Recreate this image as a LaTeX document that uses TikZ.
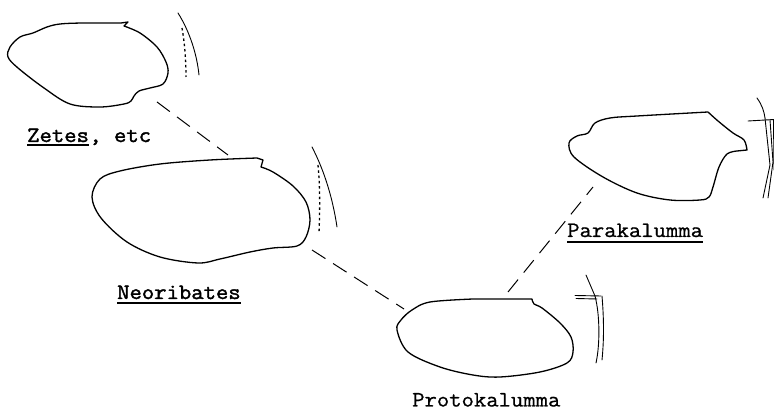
\documentclass[tikz,border=0pt]{standalone}
\usepackage{fontspec}
\newfontfamily\tw[FakeStretch=1.09,FakeBold=0.8]{Latin Modern Mono}
\newfontfamily\twb[FakeStretch=1.09,FakeBold=1.8]{Latin Modern Mono}
\begin{document}
\begin{tikzpicture}[x=1pt,y=-1pt,
  outline/.style={line width=1.3pt, line join=round, line cap=round},
  link/.style={line width=1pt, dash pattern=on 16pt off 9pt},
  dotline/.style={line width=1.3pt, dash pattern=on 2.5pt off 2.8pt},
  leg/.style={line width=0.9pt, line cap=round},
  lbl/.style={font=\tw\fontsize{22}{22}\selectfont, inner sep=0pt, anchor=base west},
  blbl/.style={lbl, font=\twb\fontsize{22}{22}\selectfont},
  uline/.style={line width=1.6pt}]
\useasboundingbox (0,0) rectangle (774,411);
% ---------- Zetes ----------
\draw[outline] plot[smooth, tension=0.55] coordinates {(124,26) (140,33) (157,47) (166,62) (168,73) (163,84) (150,88) (139,91) (134,96) (131,101) (124,104) (100,107) (70,104) (44,88) (18,68) (8,57) (10,47) (20,37) (33,33) (47,27) (60,24) (83,23) (121,23)} -- (128,22) -- (124,26);
\draw[leg] (178,13) .. controls (190,32) and (197,55) .. (199,75);
\draw[dotline] (182,28) .. controls (185,45) and (186,62) .. (186,77);
\node[blbl] (zl) at (27,142) {Zetes};
\node[blbl] (zl2) at (zl.base east) {, etc};
\draw[uline] ([yshift=-3pt]zl.base west) -- ([yshift=-3pt]zl.base east);
% ---------- Neoribates ----------
\draw[outline] plot[smooth, tension=0.55] coordinates {(261,167) (273,172) (293,186) (306,202) (310,220) (306,237) (297,246) (273,248) (250,252) (220,259) (198,263) (160,257) (127,242) (101,218) (92,197) (100,179) (120,171) (160,164) (210,160) (257,158)} -- (263,160) -- (261,167);
\draw[leg] (312,147) .. controls (325,172) and (333,200) .. (337,227);
\draw[dotline] (318,165) .. controls (320,185) and (320,210) .. (319,233);
\node[blbl] (nl) at (117,299) {Neoribates};
\draw[uline] ([yshift=-4pt]nl.base west) -- ([yshift=-4pt]nl.base east);
% ---------- Protokalumma ----------
\draw[outline] plot[smooth, tension=0.55] coordinates {(532,299) (534,304) (542,308) (560,323) (571,337) (573,352) (567,363) (540,372) (500,377) (473,375) (440,367) (408,352) (397,330) (401,320) (412,310) (430,302) (473,299)} -- (532,299);
\draw[leg] (586,275) -- (595,296);
\draw[leg] (575,295.5) -- (601,296);
\draw[leg] (576,298.5) -- (597,299);
\draw[leg] (595,296) .. controls (600,315) and (600,345) .. (596,363);
\draw[leg] (602,296) .. controls (604,320) and (604,340) .. (602,360);
\node[lbl] (pl) at (412,406.5) {Protokalumma};
% ---------- Parakalumma ----------
\draw[outline] plot[smooth, tension=0.55] coordinates {(708,112) (718,121) (733,133) (744,140) (747,150)} -- (737,151) -- plot[smooth, tension=0.55] coordinates {(737,151) (727,154) (719,167) (713,187) (709,197) (700,200) (670,200) (637,193) (603,177) (574,157) (569,143) (577,136) (588,133) (595,123) (610,118) (637,116) (708,112)};
\draw[leg] (757,98) .. controls (762,105) and (764,111) .. (765,118);
\draw[leg] (748,121) -- (774,119.5);
\draw[leg] (765,118) -- (770,165) -- (763,198);
\draw[leg] (770,120) -- (773,162) -- (768,198);
\draw[leg] (773.5,120) -- (774,170);
\node[lbl] (ql) at (567,237) {Parakalumma};
\draw[line width=1.3pt] ([yshift=-5pt]ql.base west) -- ([yshift=-5pt]ql.base east);
% ---------- connectors ----------
\coordinate (zA) at (157,102);
\coordinate (nA) at (228,155);
\coordinate (nB) at (312,250);
\coordinate (pA) at (404,309);
\coordinate (pB) at (508,292);
\coordinate (qA) at (593,187);
\draw[link] (zA) -- (nA);
\draw[link] (nB) -- (pA);
\draw[link] (pB) -- (qA);
\end{tikzpicture}
\end{document}
